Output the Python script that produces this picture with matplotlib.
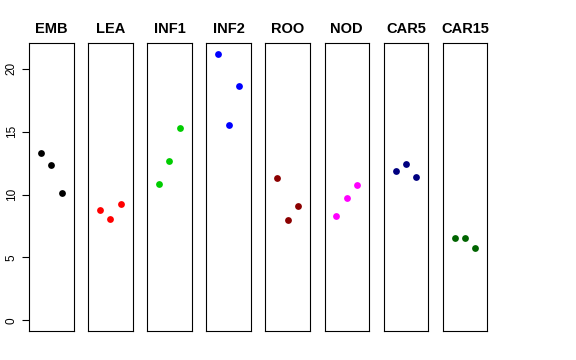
import matplotlib
matplotlib.use("Agg")
import matplotlib.pyplot as plt

plt.rcParams['font.family'] = ['Liberation Sans', 'DejaVu Sans']

# tissue panels, three replicates each
tissues = ["EMB", "LEA", "INF1", "INF2", "ROO", "NOD", "CAR5", "CAR15"]
colors = ["black", "red", "#00CD00", "blue", "#8B0000", "magenta", "#000080", "#006400"]
reps = [1, 2, 3]
emb = [13.31, 12.33, 10.15]
lea = [8.80, 8.06, 9.28]
inf1 = [10.84, 12.65, 15.30]
inf2 = [21.21, 15.56, 18.61]
roo = [11.35, 8.00, 9.07]
nod = [8.30, 9.73, 10.74]
car5 = [11.88, 12.46, 11.43]
car15 = [6.57, 6.52, 5.73]
values = [emb, lea, inf1, inf2, roo, nod, car5, car15]
yticks = [0, 5, 10, 15, 20]

W, H = 576, 360
fig = plt.figure(figsize=(W / 100, H / 100), dpi=100)

x0, pw, step = 29, 44.5, 59.1
top, bottom = 43, 331
ymax = 21.21
ylim = (-0.04 * ymax, ymax * 1.04)

for i, (name, col, vals) in enumerate(zip(tissues, colors, values)):
    left = x0 + i * step
    ax = fig.add_axes([left / W, (H - bottom) / H, pw / W, (bottom - top) / H])
    ax.scatter(reps, vals, s=24, color=col, zorder=3, linewidths=0)
    ax.set_xlim(-0.16, 4.16)
    ax.set_ylim(*ylim)
    ax.set_xticks([])
    for sp in ax.spines.values():
        sp.set_linewidth(0.8)
        sp.set_color("black")
    ax.set_title(name, fontsize=10.5, fontweight="bold", pad=7)
    if i == 0:
        ax.set_yticks(yticks)
        ax.set_yticklabels([str(t) for t in yticks], rotation=90, va="center", fontsize=8.5)
        ax.tick_params(axis="y", length=5, width=0.8, pad=3)
    else:
        ax.set_yticks([])

fig.savefig("out.png", dpi=100)
